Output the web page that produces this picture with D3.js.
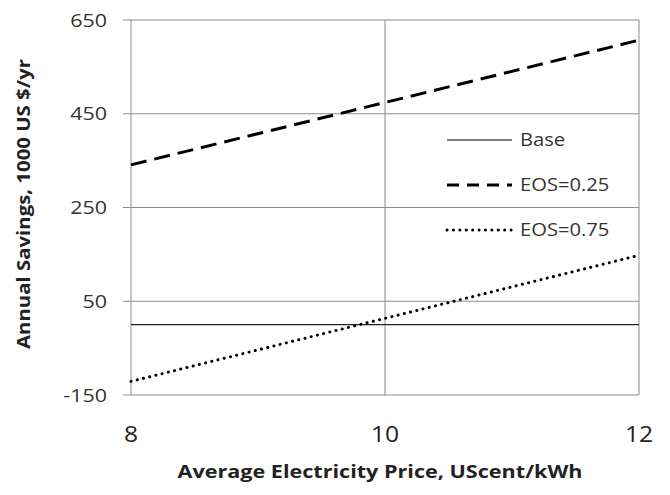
<!DOCTYPE html>
<html><head><meta charset="utf-8">
<script src="https://cdn.jsdelivr.net/npm/d3@7"></script>
<style>body{margin:0;background:#fff}</style>
</head><body>
<svg id="c" width="670" height="495"></svg>
<script>
const prices = [8, 12];
const base = [0, 0];
const eos025 = [341, 607];
const eos075 = [-121, 148];
const xTicks = [8, 10, 12];
const yTicks = [-150, 50, 250, 450, 650];
const seriesNames = ["Base", "EOS=0.25", "EOS=0.75"];

const svg = d3.select("#c");
const L = 131, R = 639, T = 20, B = 395;
const x = d3.scaleLinear().domain([8, 12]).range([L, R]);
const y = d3.scaleLinear().domain([-150, 650]).range([B, T]);
const font = "'Open Sans', 'Liberation Sans', sans-serif";
const grid = "#8c8c8c";

function stretch(sel, f) {
  sel.each(function() {
    const w = this.getComputedTextLength();
    d3.select(this).attr("textLength", w * f).attr("lengthAdjust", "spacingAndGlyphs");
  });
}

// grid
svg.append("g").selectAll("line").data(yTicks).join("line")
  .attr("x1", L - 8).attr("x2", R).attr("y1", d => y(d)).attr("y2", d => y(d))
  .attr("stroke", grid).attr("stroke-width", 1);
svg.append("g").selectAll("line").data(xTicks).join("line")
  .attr("y1", T).attr("y2", B).attr("x1", d => x(d)).attr("x2", d => x(d))
  .attr("stroke", grid).attr("stroke-width", 1);

// tick labels
const yl = svg.append("g").selectAll("text").data(yTicks).join("text")
  .attr("x", 107).attr("y", d => y(d)).attr("dy", "0.35em")
  .attr("text-anchor", "end").attr("font-family", font).attr("font-size", 19)
  .attr("fill", "#333").text(d => d);
stretch(yl, 1.13);
const xl = svg.append("g").selectAll("text").data(xTicks).join("text")
  .attr("x", d => x(d)).attr("y", 434).attr("dy", "0.35em")
  .attr("text-anchor", "middle").attr("font-family", font).attr("font-size", 22)
  .attr("fill", "#222").text(d => d);
stretch(xl, 1.12);

// axis titles
svg.append("text").attr("x", 380).attr("y", 472).attr("dy", "0.35em")
  .attr("text-anchor", "middle").attr("font-family", font).attr("font-size", 17)
  .attr("font-weight", "bold").attr("fill", "#222")
  .attr("textLength", 405).attr("lengthAdjust", "spacingAndGlyphs")
  .text("Average Electricity Price, UScent/kWh");
svg.append("text").attr("transform", "translate(24,204) rotate(-90)").attr("dy", "0.35em")
  .attr("text-anchor", "middle").attr("font-family", font).attr("font-size", 17)
  .attr("font-weight", "bold").attr("fill", "#222")
  .attr("textLength", 290).attr("lengthAdjust", "spacingAndGlyphs")
  .text("Annual Savings, 1000 US $/yr");

const line = d3.line().x((d, i) => x(prices[i])).y(d => y(d));
const styles = [
  {data: base, w: 1.3, dash: null, cap: "butt", color: "#222"},
  {data: eos025, w: 3, dash: "16,8", cap: "butt", color: "#000"},
  {data: eos075, w: 3, dash: "0.1,6.3", cap: "round", color: "#000"}
];
styles.forEach(s => {
  svg.append("path").datum(s.data).attr("d", line).attr("fill", "none")
    .attr("stroke", s.color).attr("stroke-width", s.w)
    .attr("stroke-dasharray", s.dash).attr("stroke-linecap", s.cap);
});

// legend
const leg = svg.append("g");
seriesNames.forEach((n, i) => {
  const yy = 140 + i * 45;
  const s = styles[i];
  leg.append("line").attr("x1", 447).attr("x2", 512).attr("y1", yy).attr("y2", yy)
    .attr("stroke", i === 0 ? "#555" : s.color).attr("stroke-width", i === 0 ? 1.3 : s.w)
    .attr("stroke-dasharray", i === 1 ? "12,8" : s.dash).attr("stroke-linecap", s.cap);
  const t = leg.append("text").attr("x", 520).attr("y", yy).attr("dy", "0.35em")
    .attr("font-family", font).attr("font-size", 18).attr("fill", "#333").text(n);
  stretch(t, 1.12);
});
</script>
</body></html>
